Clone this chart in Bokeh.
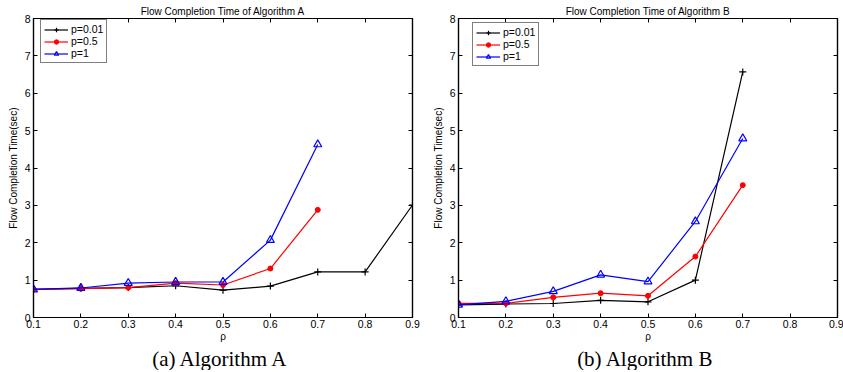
from bokeh.plotting import figure
from bokeh.models import LinearAxis, FixedTicker, Range1d, Title, Legend, CustomJSTickFormatter
from bokeh.layouts import row
from bokeh.embed import file_html
from bokeh.resources import INLINE

rho_a = [0.1, 0.2, 0.3, 0.4, 0.5, 0.6, 0.7, 0.8, 0.9]
rho_b = [0.1, 0.2, 0.3, 0.4, 0.5, 0.6, 0.7]

a_p001 = [0.75, 0.78, 0.80, 0.85, 0.73, 0.84, 1.22, 1.22, 3.01]
a_p05 = [0.75, 0.77, 0.80, 0.92, 0.87, 1.31, 2.88]
a_p1 = [0.75, 0.79, 0.92, 0.95, 0.95, 2.07, 4.63]

b_p001 = [0.34, 0.36, 0.375, 0.46, 0.42, 1.00, 6.57]
b_p05 = [0.38, 0.38, 0.54, 0.65, 0.58, 1.63, 3.54]
b_p1 = [0.34, 0.43, 0.70, 1.14, 0.96, 2.57, 4.79]

x_ticks = [0.1, 0.2, 0.3, 0.4, 0.5, 0.6, 0.7, 0.8, 0.9]
y_ticks = [0, 1, 2, 3, 4, 5, 6, 7, 8]
labels = ["p=0.01", "p=0.5", "p=1"]

SANS = "Liberation Sans"
SERIF = "Liberation Serif"


def make(title, caption, series, left_border, right_border, legend_loc):
    p = figure(frame_width=379, frame_height=299, output_backend="svg",
               toolbar_location=None, x_range=Range1d(0.1, 0.9), y_range=Range1d(0, 8),
               min_border_left=left_border, min_border_right=right_border,
               min_border_top=18, min_border_bottom=0)
    p.title.text = title
    p.title.align = "center"
    p.title.text_font = SANS
    p.title.text_font_size = "10px"
    p.title.text_font_style = "normal"
    p.title.text_color = "black"
    p.title.standoff = 4
    p.xgrid.visible = False
    p.ygrid.visible = False
    p.outline_line_color = "black"
    p.outline_line_width = 1.2
    p.background_fill_color = "white"

    for ax in (p.xaxis[0], p.yaxis[0]):
        ax.major_tick_in = 4
        ax.major_tick_out = 0
        ax.minor_tick_in = 0
        ax.minor_tick_out = 0
        ax.major_tick_line_color = "black"
        ax.major_label_text_font = SANS
        ax.major_label_text_font_size = "10.5px"
        ax.major_label_text_color = "black"
        ax.axis_label_text_font = SANS
        ax.axis_label_text_font_size = "10px"
        ax.axis_label_text_font_style = "normal"
        ax.axis_label_text_color = "black"
        ax.axis_line_color = "black"
        ax.axis_line_width = 1.2
    p.xaxis[0].ticker = FixedTicker(ticks=x_ticks)
    p.yaxis[0].ticker = FixedTicker(ticks=y_ticks)
    p.xaxis[0].axis_label = "ρ"
    p.xaxis[0].major_label_standoff = 2
    p.xaxis[0].axis_label_standoff = 0
    p.yaxis[0].axis_label = "Flow Completion Time(sec)"
    p.yaxis[0].major_label_standoff = 3
    p.yaxis[0].axis_label_standoff = 3

    blank = CustomJSTickFormatter(code="return ''")
    top = LinearAxis(ticker=FixedTicker(ticks=x_ticks), formatter=blank,
                     major_tick_in=4, major_tick_out=0, minor_tick_in=0, minor_tick_out=0,
                     major_label_text_font_size="0px", major_label_standoff=0,
                     major_tick_line_color="black",
                     axis_line_color="black", axis_line_width=1.2)
    right = LinearAxis(ticker=FixedTicker(ticks=y_ticks), formatter=blank,
                       major_tick_in=4, major_tick_out=0, minor_tick_in=0, minor_tick_out=0,
                       major_label_text_font_size="0px", major_label_standoff=0,
                       major_tick_line_color="black",
                       axis_line_color="black", axis_line_width=1.2)
    p.add_layout(top, "above")
    p.add_layout(right, "right")

    cap = Title(text=caption, align="center", text_font=SERIF, text_font_size="21px",
                text_font_style="normal", text_color="black", standoff=0)
    p.add_layout(cap, "below")

    (x1, y1), (x2, y2), (x3, y3) = series
    r1 = p.line(x1, y1, color="black", line_width=1.2)
    m1 = p.scatter(x1, y1, marker="cross", size=7, line_color="black", line_width=1.2)
    r2 = p.line(x2, y2, color="red", line_width=1.2)
    m2 = p.scatter(x2, y2, marker="circle", size=5, color="red")
    r3 = p.line(x3, y3, color="blue", line_width=1.2)
    m3 = p.scatter(x3, y3, marker="triangle", size=8, line_color="blue", fill_color=None, line_width=1.2)
    legend = Legend(items=[(labels[0], [r1, m1]), (labels[1], [r2, m2]), (labels[2], [r3, m3])],
                    location=legend_loc, border_line_color="black", border_line_width=1.5,
                    background_fill_color="white", background_fill_alpha=1.0,
                    label_text_font=SANS, label_text_font_size="10.5px", label_text_color="black",
                    padding=3, spacing=0, margin=0, label_height=11, glyph_height=11,
                    glyph_width=24, label_standoff=3)
    p.add_layout(legend, "center")
    return p


pa = make("Flow Completion Time of Algorithm A", "(a)  Algorithm A",
          [(rho_a, a_p001), (rho_b, a_p05), (rho_b, a_p1)], 33, 9, (7, 254))
pb = make("Flow Completion Time of Algorithm B", "(b)  Algorithm B",
          [(rho_b, b_p001), (rho_b, b_p05), (rho_b, b_p1)], 37, 6, (14, 251))

layout = row(pa, pb)
open("out.html", "w").write(file_html(layout, INLINE))
